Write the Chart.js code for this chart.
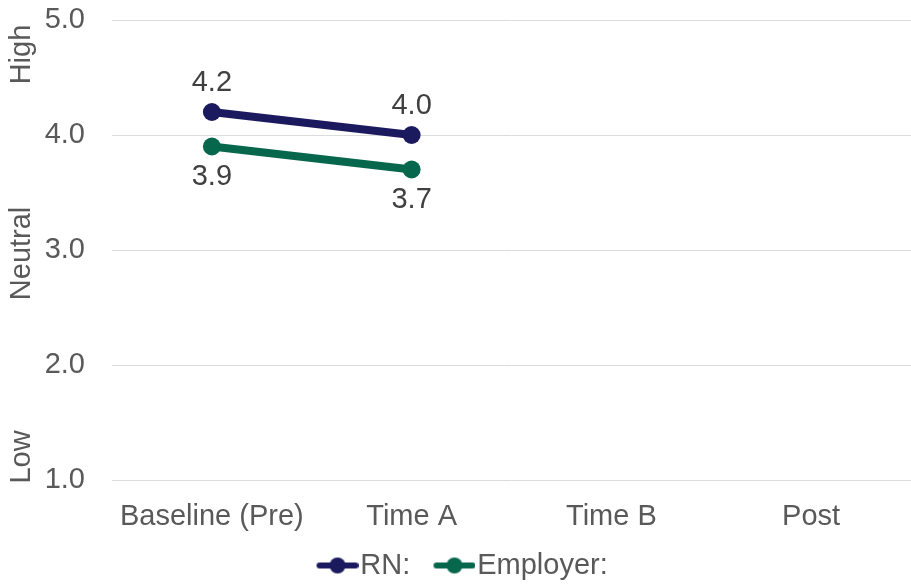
<!DOCTYPE html>
<html>
<head>
<meta charset="utf-8">
<script src="https://cdn.jsdelivr.net/npm/chart.js@4/dist/chart.umd.min.js"></script>
<style>
  html, body { margin: 0; padding: 0; background: #fff; }
  #wrap { width: 911px; height: 585px; }
</style>
</head>
<body>
<div id="wrap"><canvas id="lineChart" width="911" height="585"></canvas></div>
<script>
// === DATA ===
const categories = ["Baseline (Pre)", "Time A", "Time B", "Post"];
const rnValues = [4.2, 4.0, null, null];
const employerValues = [3.9, 3.7, null, null];
const seriesNames = ["RN:", "Employer:"];
const bandLabels = ["High", "Neutral", "Low"];
const bandAnchors = [4.7, 2.97, 1.2];

// === STYLE ===
const RN_COLOR = "#1c1a5f";
const EMP_COLOR = "#07674d";
const TEXT_COLOR = "#595959";
const FONT = "'Liberation Sans', Arial, sans-serif";
const FONT_SIZE = 29;

// legend icon: line with a dot, sitting in the right part of a wider canvas
function makeIcon(color) {
    const c = document.createElement('canvas');
    c.width = 68; c.height = 20;
    const g = c.getContext('2d');
    g.strokeStyle = color; g.lineWidth = 6; g.lineCap = 'round';
    g.beginPath(); g.moveTo(29, 10); g.lineTo(65, 10); g.stroke();
    g.fillStyle = color;
    g.beginPath(); g.arc(47, 10, 8, 0, Math.PI * 2); g.fill();
    return c;
}

// value labels above (RN) / below (Employer) each point
const valueLabels = {
    id: 'valueLabels',
    afterDatasetsDraw(chart) {
        const ctx = chart.ctx;
        ctx.save();
        ctx.font = FONT_SIZE + "px " + FONT;
        ctx.fillStyle = "#404040";
        ctx.textAlign = 'center';
        ctx.textBaseline = 'middle';
        chart.data.datasets.forEach((ds, i) => {
            const meta = chart.getDatasetMeta(i);
            meta.data.forEach((pt, j) => {
                const v = ds.data[j];
                if (v === null || v === undefined) return;
                const dy = i === 0 ? -29 : 30;
                ctx.fillText(v.toFixed(1), pt.x, pt.y + dy);
            });
        });
        ctx.restore();
    }
};

// rotated band labels on the far left
const bandText = {
    id: 'bandText',
    afterDraw(chart) {
        const ctx = chart.ctx;
        const y = chart.scales.y;
        ctx.save();
        ctx.font = FONT_SIZE + "px " + FONT;
        ctx.fillStyle = TEXT_COLOR;
        ctx.textAlign = 'center';
        ctx.textBaseline = 'middle';
        bandLabels.forEach((t, i) => {
            ctx.save();
            ctx.translate(22, y.getPixelForValue(bandAnchors[i]));
            ctx.rotate(-Math.PI / 2);
            ctx.fillText(t, 0, 0);
            ctx.restore();
        });
        ctx.restore();
    }
};

const ctx = document.getElementById('lineChart').getContext('2d');
const chart = new Chart(ctx, {
    type: 'line',
    data: {
        labels: categories,
        datasets: [
            {
                label: seriesNames[0],
                data: rnValues,
                borderColor: RN_COLOR,
                backgroundColor: RN_COLOR,
                borderWidth: 8,
                pointRadius: 9,
                pointHoverRadius: 9,
                pointBorderWidth: 0,
                tension: 0
            },
            {
                label: seriesNames[1],
                data: employerValues,
                borderColor: EMP_COLOR,
                backgroundColor: EMP_COLOR,
                borderWidth: 8,
                pointRadius: 9,
                pointHoverRadius: 9,
                pointBorderWidth: 0,
                tension: 0
            }
        ]
    },
    options: {
        responsive: false,
        animation: false,
        devicePixelRatio: 1,
        layout: { autoPadding: false, padding: { top: 20, right: 0, left: 0, bottom: -5 } },
        scales: {
            x: {
                offset: true,
                grid: { display: false },
                border: { display: false },
                ticks: { color: TEXT_COLOR, font: { family: FONT, size: FONT_SIZE }, padding: 12, maxRotation: 0 },
                afterFit(scale) { scale.height = 61; }
            },
            y: {
                min: 1, max: 5,
                grid: { color: "#dcdcdc", lineWidth: 1, drawTicks: true, tickLength: 27, tickColor: "rgba(0,0,0,0)" },
                border: { display: false },
                ticks: {
                    stepSize: 1,
                    color: TEXT_COLOR,
                    font: { family: FONT, size: FONT_SIZE },
                    padding: 0,
                    callback: v => Number(v).toFixed(1)
                },
                afterFit(scale) { scale.width = 112; }
            }
        },
        plugins: {
            tooltip: { enabled: false },
            legend: {
                position: 'bottom',
                labels: {
                    usePointStyle: true,
                    pointStyleWidth: 42.5,
                    padding: 10,
                    color: TEXT_COLOR,
                    font: { family: FONT, size: FONT_SIZE },
                    generateLabels(chart) {
                        return chart.data.datasets.map((ds, i) => ({
                            text: ds.label,
                            fillStyle: ds.borderColor,
                            strokeStyle: ds.borderColor,
                            pointStyle: makeIcon(ds.borderColor),
                            fontColor: TEXT_COLOR,
                            lineWidth: 0,
                            hidden: false,
                            datasetIndex: i
                        }));
                    }
                }
            }
        }
    },
    plugins: [valueLabels, bandText]
});
</script>
</body>
</html>
